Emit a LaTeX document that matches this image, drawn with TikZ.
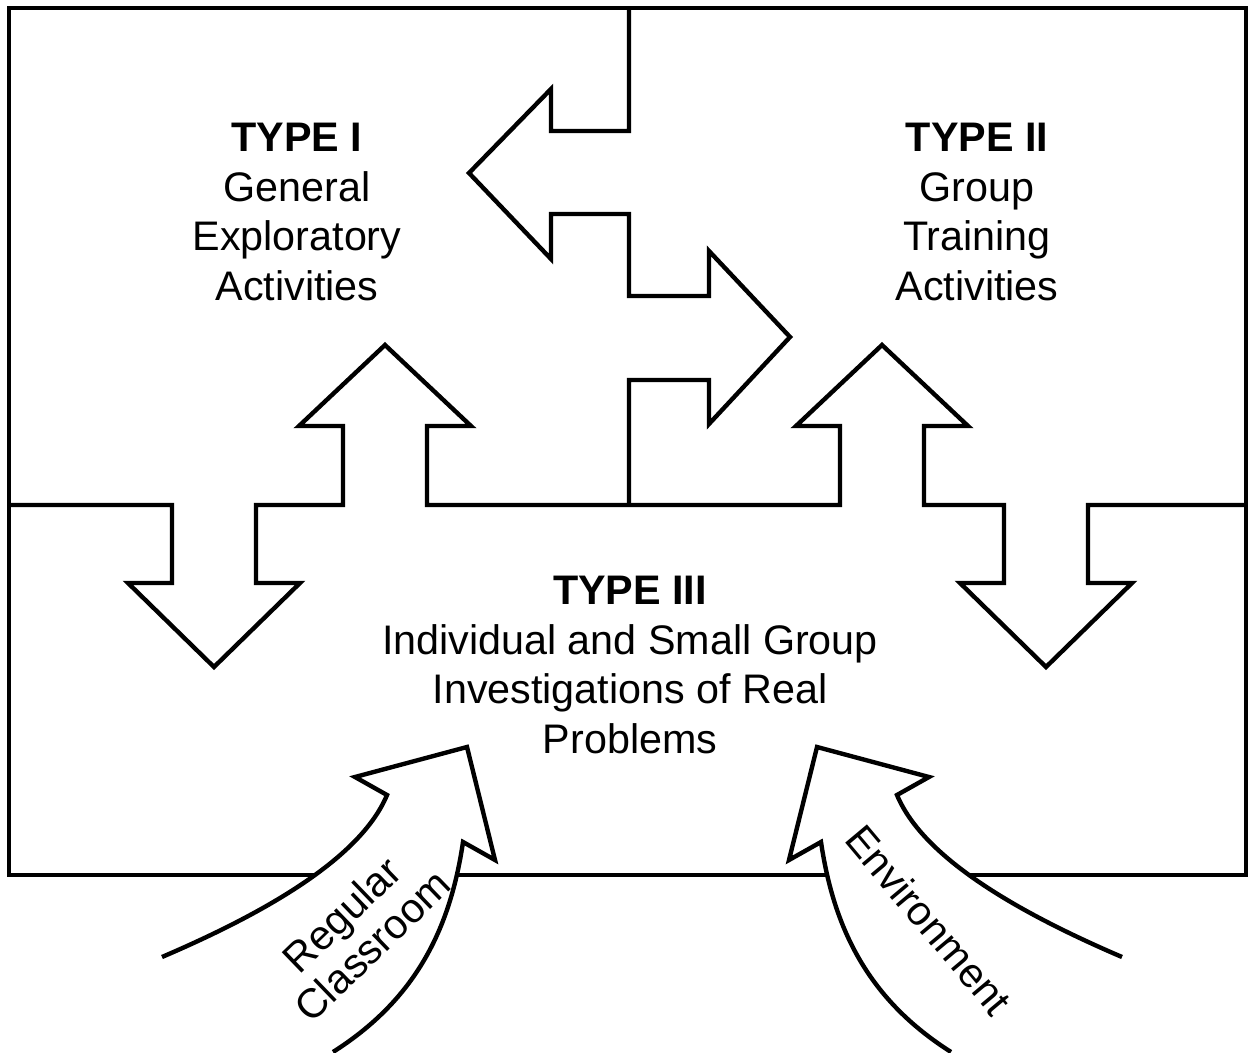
\documentclass[tikz,border=0pt]{standalone}
\usepackage{fontspec}
\setmainfont{Liberation Sans}
\begin{document}
\begin{tikzpicture}[x=0.02cm, y=-0.02cm, line width=2.5pt, line join=miter, typetext/.style={align=center, font=\fontsize{23.5}{28.45}\selectfont}, inflow/.style={draw, fill=white}, flowtext/.style={align=center, font=\fontsize{23.5}{25}\selectfont}]
        \useasboundingbox (0,0) rectangle (1250,1053);
        \draw (9,8) rectangle (1246,875);

        \draw (629,8) -- (629,131) -- (551,131) -- (551,89) -- (469,173) -- (551,259) -- (551,214) -- (629,214)
              -- (629,296) -- (709,296) -- (709,251) -- (790,337) -- (709,424) -- (709,380) -- (629,380) -- (629,505);
        \draw (9,505) -- (172,505) -- (172,583) -- (128,583) -- (214,667) -- (300,583) -- (256,583) -- (256,505)
              -- (343,505) -- (343,426) -- (299,426) -- (385,345) -- (471,426) -- (427,426) -- (427,505)
              -- (840,505) -- (840,426) -- (796,426) -- (882,345) -- (968,426) -- (924,426) -- (924,505)
              -- (1004,505) -- (1004,583) -- (960,583) -- (1046,667) -- (1132,583) -- (1088,583) -- (1088,505) -- (1246,505);

        \draw[inflow] (162,957) .. controls (260,915) and (360,860) .. (387,795) -- (355,777) -- (467,747) -- (495,860) -- (463,842)
              .. controls (450,930) and (415,1000) .. (333,1052);
        \draw[inflow] (1122,957) .. controls (1024,915) and (924,860) .. (897,795) -- (929,777) -- (817,747) -- (789,860) -- (821,842)
              .. controls (834,930) and (869,1000) .. (951,1052);

        \node[typetext] (type1) at (297,212) {\textbf{TYPE I}\\General\\Exploratory\\Activities};
        \node[typetext] (type2) at (977,212) {\textbf{TYPE II}\\Group\\Training\\Activities};
        \node[typetext] (type3) at (630,665) {\textbf{TYPE III}\\Individual and Small Group\\Investigations of Real\\Problems};
        \node[flowtext, rotate=44] (classroom) at (357,930) {Regular\\Classroom};
        \node[flowtext, rotate=-50] (environment) at (929,920) {Environment};
\end{tikzpicture}
\end{document}
